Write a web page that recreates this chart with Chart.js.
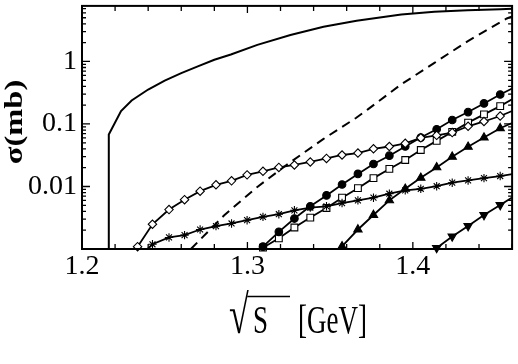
<!DOCTYPE html>
<html><head><meta charset="utf-8">
<script src="https://cdn.jsdelivr.net/npm/chart.js@4.4.0/dist/chart.umd.min.js"></script>
<style>
html,body{margin:0;padding:0;background:#fff}canvas{display:block}
#fl{position:absolute;left:-1000px;top:0;font-family:"Liberation Serif";font-size:20px}
#fl b{font-weight:bold}
</style>
</head><body>
<div id="fl">1.2 σ(mb) √S [GeV] <b>σ(mb)</b></div>
<canvas id="c" width="518" height="364" style="width:518px;height:364px"></canvas>
<script>
// ---- tick labels / titles ----
const xTickValues = [1.2, 1.3, 1.4];
const xTickLabels = ['1.2', '1.3', '1.4'];
const yTickValues = [0.01, 0.1, 1];
const yTickLabels = ['0.01', '0.1', '1'];
const xTitleParts = ['\u221A', 'S', '[GeV]'];
const yTitle = '\u03C3(mb)';

// ---- series values ----
const totalX = [1.216, 1.2162, 1.2236, 1.23, 1.24, 1.25, 1.26, 1.27, 1.28, 1.29, 1.306, 1.326, 1.346, 1.366, 1.393, 1.413, 1.433, 1.453, 1.46];
const totalY = [0.001, 0.068, 0.161, 0.238, 0.356, 0.494, 0.652, 0.833, 1.064, 1.29, 1.84, 2.65, 3.59, 4.48, 5.63, 6.22, 6.62, 6.87, 6.94];

const dashedX = [1.2658, 1.286, 1.3058, 1.3258, 1.3458, 1.3656, 1.3728, 1.3928, 1.4128, 1.4328, 1.4568, 1.46];
const dashedY = [0.001, 0.00347, 0.00975, 0.0243, 0.0572, 0.1245, 0.171, 0.427, 0.94, 2.08, 4.87, 5.27];

const diamondX = [1.2336, 1.2426, 1.2526, 1.2620, 1.2714, 1.2810, 1.2904, 1.2998, 1.3094, 1.3190, 1.3284, 1.3380, 1.3478, 1.3572, 1.3668, 1.3762, 1.3858, 1.3954, 1.4048, 1.4144, 1.4238, 1.4334, 1.4430, 1.4528, 1.46];
const diamondY = [0.00109, 0.00249, 0.00427, 0.00615, 0.00842, 0.01064, 0.01231, 0.01534, 0.0175, 0.0202, 0.0221, 0.0247, 0.0281, 0.0319, 0.0343, 0.0401, 0.0436, 0.049, 0.0600, 0.0657, 0.0728, 0.0919, 0.1096, 0.134, 0.161];

const starX = [1.2396, 1.2426, 1.2526, 1.2620, 1.2714, 1.2810, 1.2904, 1.2998, 1.3094, 1.3190, 1.3284, 1.3380, 1.3478, 1.3572, 1.3668, 1.3762, 1.3858, 1.3954, 1.4048, 1.4144, 1.4238, 1.4334, 1.4430, 1.4528, 1.46];
const starY = [0.001, 0.00119, 0.00153, 0.00167, 0.00205, 0.00232, 0.00256, 0.00289, 0.00326, 0.00360, 0.00416, 0.00459, 0.00482, 0.00543, 0.00600, 0.00662, 0.00766, 0.00865, 0.00919, 0.0101, 0.0115, 0.0125, 0.0136, 0.0147, 0.0158];

const circleX = [1.3094, 1.3190, 1.3284, 1.3380, 1.3478, 1.3572, 1.3668, 1.3762, 1.3858, 1.3954, 1.4048, 1.4144, 1.4238, 1.4334, 1.4430, 1.4528, 1.46];
const circleY = [0.00109, 0.00188, 0.00307, 0.00482, 0.00720, 0.01076, 0.0159, 0.0229, 0.0311, 0.0436, 0.0606, 0.0824, 0.1157, 0.155, 0.213, 0.296, 0.369];

const squareX = [1.3094, 1.3190, 1.3284, 1.3380, 1.3478, 1.3572, 1.3668, 1.3762, 1.3858, 1.3954, 1.4048, 1.4144, 1.4238, 1.4334, 1.4430, 1.4528, 1.46];
const squareY = [0.00105, 0.00148, 0.00221, 0.00318, 0.00453, 0.00662, 0.00940, 0.0136, 0.0191, 0.0265, 0.0383, 0.0537, 0.0746, 0.105, 0.1426, 0.193, 0.249];

const triUpX = [1.3572, 1.3668, 1.3762, 1.3858, 1.3954, 1.4048, 1.4144, 1.4238, 1.4334, 1.4430, 1.4528, 1.46];
const triUpY = [0.00110, 0.00205, 0.00350, 0.00600, 0.00919, 0.01374, 0.0202, 0.0299, 0.0431, 0.0606, 0.0855, 0.1037];

const triDownX = [1.4144, 1.4238, 1.4334, 1.4430, 1.4528, 1.46];
const triDownY = [0.00104, 0.00159, 0.00233, 0.00350, 0.00505, 0.00669];

const zip = (xs, ys) => xs.map((x, i) => ({x, y: ys[i]}));
const FONT = '"Liberation Serif"';

function radiusFn(r, hideFirst) {
  return ctx => {
    const n = ctx.dataset.data.length;
    if (ctx.dataIndex === n - 1) return 0;
    if (hideFirst && ctx.dataIndex === 0) return 0;
    return r;
  };
}

function markerSet(label, xs, ys, style, r, filled, opts = {}) {
  return {
    label, data: zip(xs, ys),
    borderColor: '#000', borderWidth: 1.8,
    pointStyle: style,
    pointRadius: radiusFn(r, opts.hideFirst),
    pointBackgroundColor: filled ? '#000' : '#fff',
    pointBorderColor: '#000', pointBorderWidth: 1.1,
    pointRotation: opts.rotation || 0,
    tension: 0, clip: 8, fill: false
  };
}

const datasets = [
  {label: 'total', data: zip(totalX, totalY), borderColor: '#000', borderWidth: 2, pointRadius: 0, tension: 0, clip: 8},
  {label: 'dashed', data: zip(dashedX, dashedY), borderColor: '#000', borderWidth: 2, borderDash: [9, 6], pointRadius: 0, tension: 0, clip: 8},
  markerSet('diamond', diamondX, diamondY, 'rectRot', 4.2, false),
  markerSet('star', starX, starY, 'star', 4.2, false, {hideFirst: true}),
  markerSet('circle', circleX, circleY, 'circle', 3.8, true),
  markerSet('square', squareX, squareY, 'rect', 4.8, false),
  markerSet('triUp', triUpX, triUpY, 'triangle', 4.8, true),
  markerSet('triDown', triDownX, triDownY, 'triangle', 4.8, true, {rotation: 180})
];

const framePlugin = {
  id: 'frame',
  afterDatasetsDraw(chart) {
    const {ctx, chartArea: a, scales: {x, y}} = chart;
    ctx.save();
    ctx.strokeStyle = '#000';
    ctx.lineWidth = 1.3;
    ctx.beginPath();
    for (let k = 0; k <= 13; k++) {
      const v = 1.2 + k * 0.02;
      if (v > x.max + 1e-9) break;
      const px = x.getPixelForValue(v);
      const len = (k % 5 === 0) ? 7 : 5;
      ctx.moveTo(px, a.bottom); ctx.lineTo(px, a.bottom - len);
      ctx.moveTo(px, a.top); ctx.lineTo(px, a.top + len);
    }
    for (let d = -3; d <= 0; d++) {
      for (let m = 1; m <= 9; m++) {
        const v = m * Math.pow(10, d);
        if (v > y.max) break;
        if (v < y.min) continue;
        const py = y.getPixelForValue(v);
        const len = m === 1 ? 8 : 4;
        ctx.moveTo(a.left, py); ctx.lineTo(a.left + len, py);
        ctx.moveTo(a.right, py); ctx.lineTo(a.right - len, py);
      }
    }
    ctx.stroke();
    ctx.lineWidth = 2;
    ctx.strokeRect(a.left, a.top, a.right - a.left, a.bottom - a.top);
    ctx.restore();
  },
  afterDraw(chart) {
    const ctx = chart.ctx;
    ctx.save();
    ctx.fillStyle = '#000';
    ctx.textBaseline = 'alphabetic';
    ctx.textAlign = 'left';
    // x title: radical, S, unit
    ctx.save();
    ctx.translate(0, 333);
    ctx.scale(1, 1.5);
    ctx.font = '36px ' + FONT;
    const rw = ctx.measureText(xTitleParts[0]).width;
    ctx.fillText(xTitleParts[0], 229, 0);
    ctx.font = '27px ' + FONT;
    ctx.fillText(xTitleParts[1], 253, 0);
    ctx.fillText(xTitleParts[2], 298, 0);
    ctx.restore();
    ctx.strokeStyle = '#000';
    ctx.lineWidth = 1.5;
    ctx.beginPath();
    ctx.moveTo(229 + rw - 1.5, 296.5); ctx.lineTo(290, 296.5);
    ctx.stroke();
    // y title
    ctx.save();
    ctx.translate(15, 122);
    ctx.rotate(-Math.PI / 2);
    ctx.scale(1.25, 1);
    ctx.font = 'bold 26px ' + FONT;
    ctx.textAlign = 'center';
    ctx.textBaseline = 'middle';
    ctx.fillText(yTitle, 0, 0);
    ctx.restore();
    ctx.restore();
  }
};

function noPad(s) { s.paddingTop = 0; s.paddingBottom = 0; s.paddingLeft = 0; s.paddingRight = 0; }

function build() {
  new Chart(document.getElementById('c'), {
    type: 'line',
    data: {datasets},
    options: {
      responsive: false, animation: false, devicePixelRatio: 1,
      layout: {padding: {top: 4, right: 4, left: 0, bottom: 0}},
      plugins: {legend: {display: false}, tooltip: {enabled: false}},
      scales: {
        x: {
          type: 'linear', min: 1.2, max: 1.46, bounds: 'data',
          grid: {display: false, drawTicks: false}, border: {display: false},
          afterBuildTicks: s => { s.ticks = xTickValues.map(v => ({value: v})); },
          afterFit: s => { s.height = 115; noPad(s); },
          ticks: {
            padding: 1, color: '#000', font: {family: FONT, size: 28}, maxRotation: 0,
            callback: (v, i) => xTickLabels[i]
          }
        },
        y: {
          type: 'logarithmic', min: 0.001, max: 7.74, bounds: 'data',
          grid: {display: false, drawTicks: false}, border: {display: false},
          afterBuildTicks: s => { s.ticks = yTickValues.map(v => ({value: v})); },
          afterFit: s => { s.width = 82; noPad(s); },
          ticks: {
            padding: 5, color: '#000', font: {family: FONT, size: 28},
            callback: (v, i) => yTickLabels[i]
          }
        }
      }
    },
    plugins: [framePlugin]
  });
}

Promise.all([
  document.fonts.load('28px "Liberation Serif"'),
  document.fonts.load('bold 26px "Liberation Serif"')
]).catch(() => {}).then(() => document.fonts.ready).then(build, build);
</script>
</body></html>
